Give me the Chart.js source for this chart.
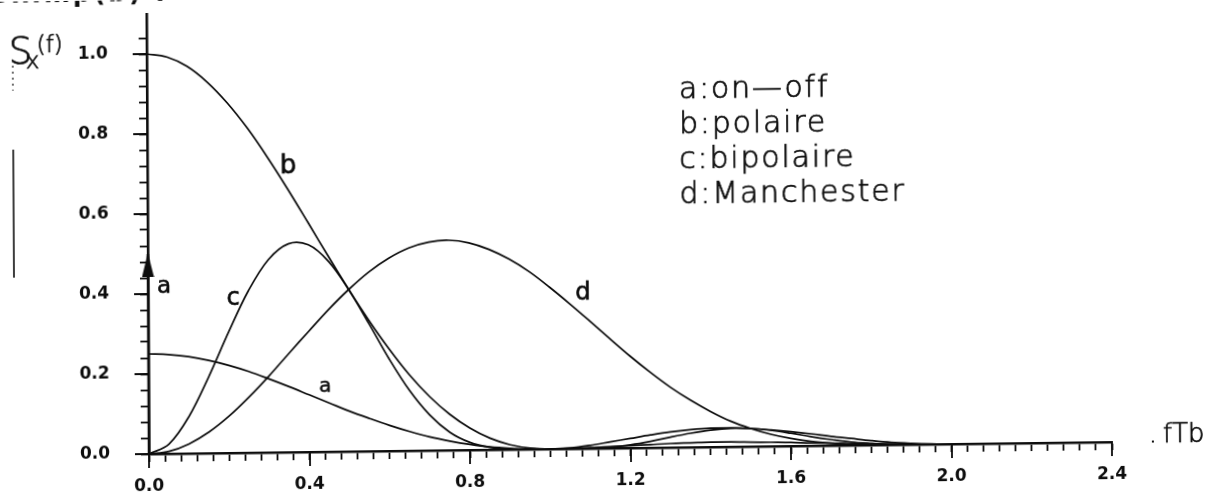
<!DOCTYPE html>
<html>
<head>
<meta charset="utf-8">
<script src="https://cdn.jsdelivr.net/npm/chart.js@4.4.1/dist/chart.umd.min.js"></script>
<style>
  html, body { margin: 0; padding: 0; background: #fff; overflow: hidden; }
  /* the printed sheet sits slightly skewed on the page */
  #sheet { position: relative; width: 1220px; height: 492px;
           transform-origin: 149px 454px;
           transform: matrix(1, -0.0124, 0.0057, 1, 0, 0); }
  canvas { display: block; }
</style>
</head>
<body>
<div id="sheet"><canvas id="psd" width="1220" height="492"></canvas></div>
<script>
// Normalised frequency fTb
const freq = [0.00, 0.05, 0.10, 0.15, 0.20, 0.25, 0.30, 0.35, 0.40, 0.45,
              0.50, 0.55, 0.60, 0.65, 0.70, 0.75, 0.80, 0.85, 0.90, 0.95,
              1.00, 1.05, 1.10, 1.15, 1.20, 1.25, 1.30, 1.35, 1.40, 1.45,
              1.50, 1.55, 1.60, 1.65, 1.70, 1.75, 1.80, 1.85, 1.90, 1.95, 2.00];

// a: on-off (continuous part)
const onOff = [0.250, 0.248, 0.242, 0.232, 0.219, 0.203, 0.184, 0.164, 0.143, 0.122,
               0.101, 0.082, 0.064, 0.048, 0.034, 0.023, 0.014, 0.007, 0.003, 0.001,
               0.000, 0.001, 0.002, 0.004, 0.006, 0.008, 0.010, 0.011, 0.012, 0.012,
               0.011, 0.010, 0.009, 0.007, 0.006, 0.004, 0.003, 0.002, 0.001, 0.000, 0.000];

// b: polaire
const polar = [1.000, 0.992, 0.968, 0.928, 0.875, 0.811, 0.737, 0.657, 0.573, 0.488,
               0.405, 0.327, 0.255, 0.190, 0.135, 0.090, 0.055, 0.029, 0.012, 0.003,
               0.000, 0.002, 0.008, 0.016, 0.024, 0.032, 0.039, 0.044, 0.047, 0.047,
               0.045, 0.041, 0.036, 0.030, 0.023, 0.017, 0.011, 0.006, 0.003, 0.001, 0.000];

// c: bipolaire
const bipolar = [0.000, 0.024, 0.092, 0.191, 0.302, 0.405, 0.482, 0.521, 0.518, 0.476,
                 0.405, 0.319, 0.230, 0.151, 0.089, 0.045, 0.019, 0.006, 0.001, 0.000,
                 0.000, 0.000, 0.001, 0.003, 0.008, 0.016, 0.026, 0.035, 0.042, 0.046,
                 0.045, 0.040, 0.032, 0.023, 0.015, 0.008, 0.004, 0.001, 0.000, 0.000, 0.000];

// d: Manchester
const manchester = [0.000, 0.006, 0.024, 0.053, 0.092, 0.139, 0.191, 0.247, 0.302, 0.356,
                    0.405, 0.448, 0.482, 0.507, 0.521, 0.525, 0.518, 0.501, 0.476, 0.444,
                    0.405, 0.363, 0.319, 0.274, 0.230, 0.189, 0.151, 0.118, 0.089, 0.064,
                    0.045, 0.030, 0.019, 0.011, 0.006, 0.003, 0.001, 0.000, 0.000, 0.000, 0.000];

// spectral line of the on-off code at f = 0
const lineFreq  = [0.0, 0.0];
const lineLevel = [0.0, 0.5];

// labelled ticks
const xTickLabels = [0.0, 0.4, 0.8, 1.2, 1.6, 2.0, 2.4];
const yTickLabels = [0.0, 0.2, 0.4, 0.6, 0.8, 1.0];

const legendLines = ['a:on\u2014off', 'b:polaire', 'c:bipolaire', 'd:Manchester'];

// hand-written curve tags, anchored in (fTb, Sx) coordinates
const curveTags = [
  { text: 'b', f: 0.351, s: 0.698, size: 26 },
  { text: 'c', f: 0.212, s: 0.370, size: 24 },
  { text: 'a', f: 0.440, s: 0.150, size: 20 },
  { text: 'a', f: 0.040, s: 0.402, size: 23 },
  { text: 'd', f: 1.084, s: 0.372, size: 24 }
];

const INK = '#0d0d0d';
const isOn = (list, v) => list.some(t => Math.abs(t - v) < 1e-6);
const pairs = (xs, ys) => xs.map((x, i) => ({ x: x, y: ys[i] }));

// narrow filled arrow head, tip at the centre of the image
const arrowHead = document.createElement('canvas');
arrowHead.width = 13; arrowHead.height = 46;
(function () {
  const g = arrowHead.getContext('2d');
  g.fillStyle = INK;
  g.beginPath();
  g.moveTo(6.5, 22); g.lineTo(12.5, 46); g.lineTo(0.5, 46);
  g.closePath(); g.fill();
})();

const curve = (label, ys) => ({
  label: label, data: pairs(freq, ys),
  borderColor: INK, borderWidth: 1.7, pointRadius: 0, fill: false,
  tension: 0.35
});

function thinText(ctx, text, x, y) {
  ctx.fillText(text, x, y);
  ctx.strokeText(text, x, y);
}

const annotations = {
  id: 'annotations',
  afterDraw(chart) {
    const { ctx, scales: { x, y } } = chart;
    const area = chart.chartArea;
    ctx.save();
    ctx.strokeStyle = INK; ctx.fillStyle = INK;

    // longer marks at the labelled ticks
    ctx.lineWidth = 1.8;
    ctx.beginPath();
    xTickLabels.forEach(v => {
      const px = Math.round(x.getPixelForValue(v));
      ctx.moveTo(px, area.bottom); ctx.lineTo(px, area.bottom + 14);
    });
    yTickLabels.forEach(v => {
      const py = Math.round(y.getPixelForValue(v));
      ctx.moveTo(area.left - 14, py); ctx.lineTo(area.left, py);
    });
    ctx.stroke();

    // legend block
    ctx.textAlign = 'left'; ctx.textBaseline = 'alphabetic';
    ctx.lineWidth = 0.7;
    ctx.font = '200 30px "DejaVu Sans"';
    try { ctx.letterSpacing = '1.8px'; } catch (e) {}
    legendLines.forEach((t, i) => thinText(ctx, t, 681, 105 + i * 35));

    // axis titles
    try { ctx.letterSpacing = '0px'; } catch (e) {}
    ctx.font = '200 37px "DejaVu Sans"';
    thinText(ctx, 'S', 11, 62);
    ctx.font = '200 23px "DejaVu Sans"';
    thinText(ctx, 'x', 28, 67);
    thinText(ctx, '(f)', 39, 51);
    ctx.font = '200 26px "DejaVu Sans"';
    thinText(ctx, 'fTb', 1163, 455);
    ctx.fillRect(1152, 453, 2, 2);

    // sheet caption, mostly cut off by the top edge
    ctx.font = 'bold 25px "DejaVu Sans"';
    try { ctx.letterSpacing = '3px'; } catch (e) {}
    ctx.fillText('SxImp(b) :', -6, 1);
    try { ctx.letterSpacing = '0px'; } catch (e) {}

    // pen marks in the margin
    ctx.lineWidth = 1.6;
    ctx.beginPath(); ctx.moveTo(15, 148); ctx.lineTo(15, 276); ctx.stroke();
    ctx.lineWidth = 1.2;
    ctx.setLineDash([2, 4]);
    ctx.beginPath(); ctx.moveTo(15, 64); ctx.lineTo(15, 89); ctx.stroke();
    ctx.setLineDash([]);

    // curve tags
    ctx.textAlign = 'center';
    ctx.lineWidth = 0.6;
    curveTags.forEach(tag => {
      ctx.font = tag.size + 'px "DejaVu Sans"';
      thinText(ctx, tag.text, x.getPixelForValue(tag.f), y.getPixelForValue(tag.s));
    });
    ctx.restore();
  }
};

new Chart(document.getElementById('psd'), {
  type: 'line',
  data: {
    datasets: [
      curve('a:on-off', onOff),
      curve('b:polaire', polar),
      curve('c:bipolaire', bipolar),
      curve('d:Manchester', manchester),
      {
        label: 'a:on-off (raie)',
        data: pairs(lineFreq, lineLevel),
        borderColor: INK, borderWidth: 2.5, fill: false, clip: false,
        pointStyle: c => (c.dataIndex === 1 ? arrowHead : 'circle'),
        pointRadius: c => (c.dataIndex === 1 ? 10 : 0)
      }
    ]
  },
  options: {
    responsive: false,
    animation: false,
    devicePixelRatio: 1,
    layout: { padding: { left: 0, right: 108, top: 14, bottom: 0 } },
    plugins: { legend: { display: false }, tooltip: { enabled: false } },
    scales: {
      x: {
        type: 'linear', min: 0, max: 2.4,
        afterFit(s) { s.height = 38; s.paddingLeft = 0; s.paddingRight = 0; },
        border: { display: true, color: INK, width: 2.6 },
        grid: { drawOnChartArea: false, drawTicks: true, tickLength: 8, tickWidth: 1.8, tickColor: INK },
        ticks: {
          stepSize: 0.04, autoSkip: false, maxRotation: 0, minRotation: 0,
          padding: 14, color: INK,
          font: { family: '"DejaVu Sans"', size: 17, weight: 'bold' },
          callback: v => (isOn(xTickLabels, v) ? v.toFixed(1) : '')
        }
      },
      y: {
        type: 'linear', min: 0, max: 1.1,
        afterFit(s) { s.width = 149; s.paddingTop = 0; s.paddingBottom = 0; },
        border: { display: true, color: INK, width: 2.6 },
        grid: { drawOnChartArea: false, drawTicks: true, tickLength: 8, tickWidth: 1.8, tickColor: INK },
        ticks: {
          stepSize: 0.04, autoSkip: false, padding: 31, color: INK,
          font: { family: '"DejaVu Sans"', size: 17, weight: 'bold' },
          callback: v => (v > 1.09 ? null : (isOn(yTickLabels, v) ? v.toFixed(1) : ''))
        }
      }
    }
  },
  plugins: [annotations]
});
</script>
</body>
</html>
